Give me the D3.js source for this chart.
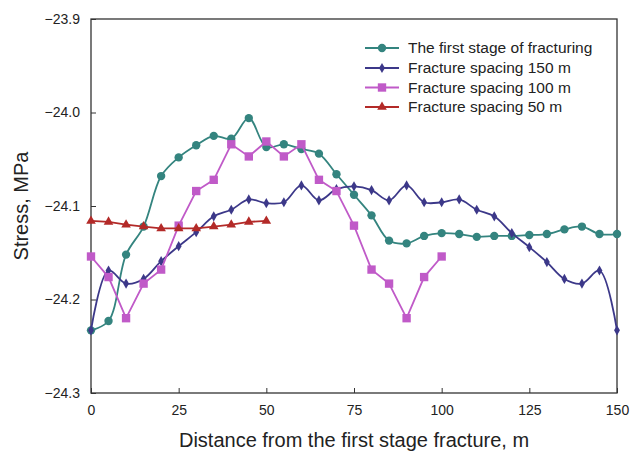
<!DOCTYPE html>
<html>
<head>
<meta charset="utf-8">
<script src="https://cdn.jsdelivr.net/npm/d3@7"></script>
<style>
  body { margin: 0; background: #fff; }
  text { font-family: "Liberation Sans", Arial, sans-serif; fill: #222; }
</style>
</head>
<body>
<div id="chart"></div>
<script>
// distances (m)
const xFirst = d3.range(0, 151, 5);
const x150 = d3.range(0, 151, 5);
const x100 = d3.range(0, 101, 5);
const x50 = d3.range(0, 51, 5);

// stress values (MPa)
const firstStage = [-24.233, -24.223, -24.152, -24.122, -24.068, -24.048, -24.035, -24.025, -24.028, -24.006,
    -24.037, -24.034, -24.039, -24.044, -24.066, -24.088, -24.110, -24.137, -24.140, -24.132,
    -24.129, -24.130, -24.133, -24.132, -24.132, -24.131, -24.130, -24.125, -24.122, -24.130, -24.130];
const spacing150 = [-24.233, -24.169, -24.183, -24.178, -24.159, -24.143, -24.128, -24.111, -24.104, -24.093,
    -24.097, -24.096, -24.078, -24.094, -24.082, -24.079, -24.083, -24.094, -24.078, -24.096,
    -24.096, -24.093, -24.104, -24.111, -24.129, -24.144, -24.160, -24.178, -24.183, -24.169, -24.233];
const spacing100 = [-24.154, -24.176, -24.220, -24.183, -24.168, -24.121, -24.084, -24.072, -24.034, -24.047,
    -24.031, -24.047, -24.034, -24.072, -24.084, -24.121, -24.168, -24.183, -24.220, -24.176, -24.154];
const spacing50 = [-24.116, -24.117, -24.120, -24.122, -24.124, -24.124, -24.124, -24.122, -24.120, -24.117, -24.116];

const xTicks = [0, 25, 50, 75, 100, 125, 150];
const yTicks = [-23.9, -24.0, -24.1, -24.2, -24.3];

const seriesNames = ["The first stage of fracturing", "Fracture spacing 150 m",
    "Fracture spacing 100 m", "Fracture spacing 50 m"];

const width = 630, height = 452;
const margin = {top: 19, right: 13, bottom: 59, left: 91};

const svg = d3.select("#chart").append("svg")
    .attr("width", width)
    .attr("height", height);

const x = d3.scaleLinear().domain([0, 150]).range([margin.left, width - margin.right]);
const y = d3.scaleLinear().domain([-24.3, -23.9]).range([height - margin.bottom, margin.top]);

// frame
svg.append("rect")
    .attr("x", x(0)).attr("y", y(-23.9))
    .attr("width", x(150) - x(0)).attr("height", y(-24.3) - y(-23.9))
    .attr("fill", "none").attr("stroke", "#333").attr("stroke-width", 1.3);

// axes (ticks inside)
const fmtY = d => d3.format(".1f")(d).replace("-", "\u2212");
const xAxisG = svg.append("g")
    .attr("transform", `translate(0,${y(-24.3)})`)
    .call(d3.axisBottom(x).tickValues(xTicks).tickSizeInner(-5).tickSizeOuter(0).tickPadding(12));
const yAxisG = svg.append("g")
    .attr("transform", `translate(${x(0)},0)`)
    .call(d3.axisLeft(y).tickValues(yTicks).tickFormat(fmtY).tickSizeInner(-5).tickSizeOuter(0).tickPadding(11));

[xAxisG, yAxisG].forEach(g => {
    g.select(".domain").remove();
    g.selectAll(".tick line").attr("stroke", "#333");
    g.selectAll(".tick text").attr("font-size", 14).attr("fill", "#222")
        .attr("font-family", "Liberation Sans, Arial, sans-serif");
});

// axis titles
svg.append("text")
    .attr("x", (x(0) + x(150)) / 2).attr("y", 447)
    .attr("text-anchor", "middle").attr("font-size", 20)
    .text("Distance from the first stage fracture, m");
svg.append("text")
    .attr("transform", `translate(28,${(y(-23.9) + y(-24.3)) / 2}) rotate(-90)`)
    .attr("text-anchor", "middle").attr("font-size", 20)
    .text("Stress, MPa");

const series = [
    {name: seriesNames[0], xs: xFirst, ys: firstStage, color: "#34847f", marker: "circle", curve: d3.curveCatmullRom},
    {name: seriesNames[1], xs: x150, ys: spacing150, color: "#3c3889", marker: "diamond", curve: d3.curveCatmullRom},
    {name: seriesNames[2], xs: x100, ys: spacing100, color: "#c05ac8", marker: "square", curve: d3.curveLinear},
    {name: seriesNames[3], xs: x50, ys: spacing50, color: "#b32a28", marker: "triangle", curve: d3.curveLinear}
];

const symbolOf = m => ({
    circle: d3.symbol().type(d3.symbolCircle).size(55),
    diamond: d3.symbol().type(d3.symbolDiamond).size(30),
    square: d3.symbol().type(d3.symbolSquare).size(70),
    triangle: d3.symbol().type(d3.symbolTriangle).size(40)
})[m];

const plot = svg.append("g");
series.forEach(s => {
    const pts = s.xs.map((d, i) => [d, s.ys[i]]);
    const line = d3.line().x(d => x(d[0])).y(d => y(d[1])).curve(s.curve);
    const g = plot.append("g");
    g.append("path")
        .attr("d", line(pts))
        .attr("fill", "none").attr("stroke", s.color).attr("stroke-width", 1.8);
    g.selectAll("path.pt").data(pts).join("path")
        .attr("class", "pt")
        .attr("d", symbolOf(s.marker)())
        .attr("transform", d => `translate(${x(d[0])},${y(d[1])})`)
        .attr("fill", s.color);
});

// legend
const legend = svg.append("g");
const legendY = [48, 68, 87.5, 107];
series.forEach((s, i) => {
    const g = legend.append("g").attr("transform", `translate(365,${legendY[i]})`);
    g.append("line").attr("x1", 0).attr("x2", 34).attr("stroke", s.color).attr("stroke-width", 1.8);
    g.append("path").attr("d", symbolOf(s.marker)()).attr("transform", "translate(17,0)").attr("fill", s.color);
    g.append("text").attr("x", 43).attr("dy", "0.35em").attr("font-size", 15.5).text(s.name);
});
</script>
</body>
</html>
